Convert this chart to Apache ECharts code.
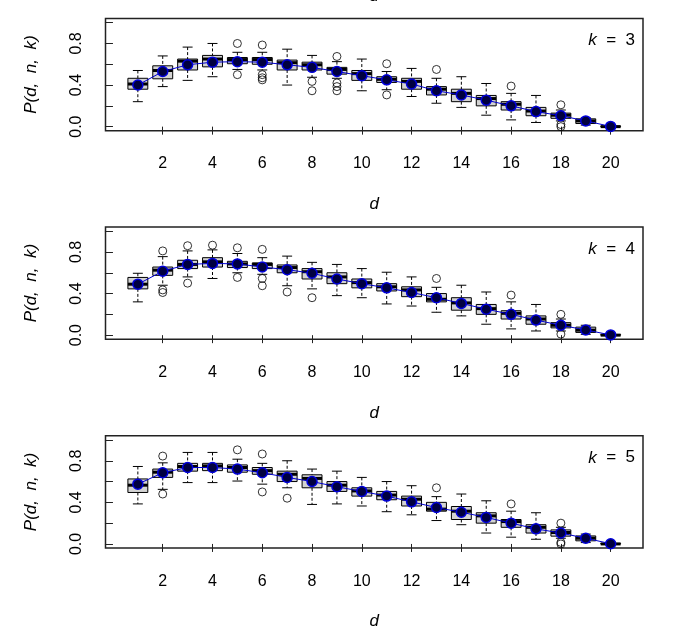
<!DOCTYPE html>
<html lang="en">
<head>
    <meta charset="UTF-8">
    <title>P(d, n, k)</title>
    <script src="https://cdn.jsdelivr.net/npm/echarts@6.0.0/dist/echarts.min.js"></script>
    <style>
        html, body { margin: 0; padding: 0; background: #fff; }
        #chart { width: 680px; height: 639px; }
    </style>
</head>
<body>
<div id="chart"></div>
<script>
    // d = 1..20
    var dVals = [1, 2, 3, 4, 5, 6, 7, 8, 9, 10, 11, 12, 13, 14, 15, 16, 17, 18, 19, 20];
    var xTicks = [2, 4, 6, 8, 10, 12, 14, 16, 18, 20];
    var yTicks = [0, 0.2, 0.4, 0.6, 0.8, 1.0];
    var yLabels = [0, 0.4, 0.8];
    var kVals = [3, 4, 5];

    // k = 3
    var k3Lo   = [0.24, 0.385, 0.445, 0.48, 0.55, 0.545, 0.40, 0.475, 0.465, 0.345, 0.355, 0.29, 0.225, 0.185, 0.11, 0.065, 0.04, 0.055, 0.015, 0];
    var k3Q1   = [0.36, 0.46, 0.545, 0.575, 0.605, 0.60, 0.545, 0.545, 0.505, 0.445, 0.425, 0.36, 0.305, 0.24, 0.20, 0.16, 0.105, 0.08, 0.03, 0];
    var k3Med  = [0.41, 0.54, 0.63, 0.65, 0.645, 0.645, 0.615, 0.595, 0.55, 0.51, 0.455, 0.435, 0.36, 0.32, 0.27, 0.215, 0.15, 0.11, 0.055, 0];
    var k3Q3   = [0.465, 0.585, 0.65, 0.685, 0.665, 0.665, 0.64, 0.62, 0.57, 0.54, 0.48, 0.465, 0.385, 0.36, 0.30, 0.24, 0.185, 0.13, 0.075, 0.005];
    var k3Hi   = [0.54, 0.68, 0.765, 0.80, 0.715, 0.715, 0.745, 0.685, 0.625, 0.65, 0.53, 0.56, 0.465, 0.48, 0.415, 0.32, 0.30, 0.16, 0.085, 0.005];
    var k3Mean = [0.40, 0.53, 0.595, 0.62, 0.625, 0.62, 0.595, 0.57, 0.53, 0.49, 0.45, 0.41, 0.345, 0.305, 0.255, 0.20, 0.145, 0.105, 0.055, 0.002];
    var k3Out  = [[5, 0.80], [5, 0.50], [6, 0.785], [6, 0.50], [6, 0.47], [6, 0.45], [8, 0.435], [8, 0.345],
                  [9, 0.675], [9, 0.42], [9, 0.385], [9, 0.345], [11, 0.605], [11, 0.305], [13, 0.55],
                  [16, 0.39], [18, 0.21], [18, 0.02], [18, 0.0]];

    // k = 4
    var k4Lo   = [0.32, 0.48, 0.56, 0.545, 0.60, 0.585, 0.475, 0.445, 0.38, 0.36, 0.30, 0.28, 0.22, 0.185, 0.105, 0.06, 0.04, 0.04, 0.008, 0];
    var k4Q1   = [0.445, 0.575, 0.64, 0.655, 0.65, 0.64, 0.60, 0.54, 0.495, 0.455, 0.425, 0.37, 0.32, 0.24, 0.20, 0.155, 0.105, 0.07, 0.026, 0];
    var k4Med  = [0.49, 0.625, 0.68, 0.705, 0.685, 0.68, 0.65, 0.61, 0.56, 0.505, 0.465, 0.435, 0.345, 0.31, 0.255, 0.21, 0.155, 0.095, 0.048, 0];
    var k4Q3   = [0.555, 0.655, 0.72, 0.745, 0.71, 0.695, 0.675, 0.64, 0.60, 0.54, 0.495, 0.465, 0.40, 0.36, 0.295, 0.235, 0.185, 0.12, 0.077, 0.005];
    var k4Hi   = [0.595, 0.755, 0.81, 0.82, 0.785, 0.745, 0.76, 0.70, 0.68, 0.64, 0.605, 0.56, 0.46, 0.48, 0.415, 0.32, 0.295, 0.155, 0.095, 0.005];
    var k4Mean = [0.49, 0.615, 0.68, 0.69, 0.685, 0.655, 0.63, 0.595, 0.54, 0.495, 0.455, 0.41, 0.36, 0.305, 0.25, 0.20, 0.145, 0.095, 0.05, 0.002];
    var k4Out  = [[2, 0.81], [2, 0.435], [2, 0.41], [3, 0.86], [3, 0.50], [4, 0.865], [5, 0.84], [5, 0.555],
                  [6, 0.825], [6, 0.545], [6, 0.475], [7, 0.415], [8, 0.36], [13, 0.545], [16, 0.385],
                  [18, 0.20], [18, 0.01]];

    // k = 5
    var k5Lo   = [0.385, 0.525, 0.59, 0.59, 0.605, 0.575, 0.54, 0.38, 0.385, 0.365, 0.31, 0.28, 0.225, 0.185, 0.105, 0.065, 0.045, 0.055, 0.013, 0];
    var k5Q1   = [0.495, 0.64, 0.70, 0.705, 0.69, 0.67, 0.60, 0.54, 0.505, 0.46, 0.425, 0.365, 0.315, 0.235, 0.20, 0.16, 0.105, 0.075, 0.03, 0];
    var k5Med  = [0.565, 0.69, 0.745, 0.75, 0.735, 0.705, 0.67, 0.63, 0.565, 0.51, 0.47, 0.43, 0.335, 0.315, 0.27, 0.215, 0.16, 0.11, 0.055, 0];
    var k5Q3   = [0.625, 0.72, 0.775, 0.775, 0.76, 0.735, 0.70, 0.665, 0.60, 0.54, 0.505, 0.46, 0.40, 0.36, 0.30, 0.235, 0.185, 0.135, 0.077, 0.005];
    var k5Hi   = [0.745, 0.78, 0.88, 0.88, 0.815, 0.775, 0.80, 0.72, 0.70, 0.64, 0.60, 0.56, 0.455, 0.48, 0.415, 0.315, 0.30, 0.16, 0.095, 0.005];
    var k5Mean = [0.575, 0.685, 0.735, 0.735, 0.72, 0.685, 0.64, 0.60, 0.55, 0.505, 0.46, 0.405, 0.35, 0.305, 0.255, 0.20, 0.145, 0.105, 0.055, 0.002];
    var k5Out  = [[2, 0.845], [2, 0.48], [5, 0.905], [6, 0.865], [6, 0.50], [7, 0.44], [13, 0.54], [16, 0.385],
                  [18, 0.20], [18, 0.015], [18, 0.0]];

    var panels = [
        {lo: k3Lo, q1: k3Q1, med: k3Med, q3: k3Q3, hi: k3Hi, mean: k3Mean, out: k3Out},
        {lo: k4Lo, q1: k4Q1, med: k4Med, q3: k4Q3, hi: k4Hi, mean: k4Mean, out: k4Out},
        {lo: k5Lo, q1: k5Q1, med: k5Med, q3: k5Q3, hi: k5Hi, mean: k5Mean, out: k5Out}
    ];

    var FONT = "'Liberation Sans', Arial, Helvetica, sans-serif";
    var gridTops = [18.5, 227, 435.8];
    var gridH = 112.3;

    function renderBox(params, api) {
        var d = api.value(0);
        var halfW = api.size([0.8, 0])[0] / 2;
        var capW = halfW / 2;
        var pLo = api.coord([d, api.value(1)]);
        var pQ1 = api.coord([d, api.value(2)]);
        var pMed = api.coord([d, api.value(3)]);
        var pQ3 = api.coord([d, api.value(4)]);
        var pHi = api.coord([d, api.value(5)]);
        var x = pMed[0];
        var dash = {stroke: '#000', lineWidth: 1, lineDash: [3, 2]};
        var ink = {stroke: '#000', lineWidth: 1};
        return {
            type: 'group',
            children: [
                {type: 'line', shape: {x1: x, y1: pHi[1], x2: x, y2: pQ3[1]}, style: dash},
                {type: 'line', shape: {x1: x, y1: pQ1[1], x2: x, y2: pLo[1]}, style: dash},
                {type: 'line', shape: {x1: x - capW, y1: pHi[1], x2: x + capW, y2: pHi[1]}, style: ink},
                {type: 'line', shape: {x1: x - capW, y1: pLo[1], x2: x + capW, y2: pLo[1]}, style: ink},
                {type: 'rect', shape: {x: x - halfW, y: pQ3[1], width: 2 * halfW, height: pQ1[1] - pQ3[1]},
                    style: {fill: '#d3d3d3', stroke: '#000', lineWidth: 1}},
                {type: 'line', shape: {x1: x - halfW, y1: pMed[1], x2: x + halfW, y2: pMed[1]},
                    style: {stroke: '#000', lineWidth: 3}}
            ]
        };
    }

    var grids = [], xAxes = [], yAxes = [], series = [], graphics = [];

    panels.forEach(function (p, i) {
        grids.push({
            left: 105.5, width: 537.5, top: gridTops[i], height: gridH,
            show: true, borderColor: '#222', borderWidth: 1.5, backgroundColor: 'transparent',
            outerBoundsMode: 'none'
        });
        xAxes.push({
            type: 'value', gridIndex: i, min: -0.3, max: 21.3,
            name: 'd', nameLocation: 'middle', nameGap: 65,
            nameTextStyle: {fontFamily: FONT, fontSize: 17, fontStyle: 'italic', color: '#000'},
            axisLine: {show: false},
            splitLine: {show: false},
            axisTick: {show: true, length: 8, customValues: xTicks, lineStyle: {color: '#222', width: 1}},
            axisLabel: {customValues: xTicks, margin: 25, fontFamily: FONT, fontSize: 16, color: '#000'}
        });
        yAxes.push({
            type: 'value', gridIndex: i, min: -0.04, max: 1.04,
            name: 'P(d,  n,  k)', nameLocation: 'middle', nameGap: 66, nameRotate: 90,
            nameTextStyle: {fontFamily: FONT, fontSize: 17, fontStyle: 'italic', color: '#000'},
            axisLine: {show: false},
            splitLine: {show: false},
            axisTick: {show: true, length: 8, customValues: yTicks, lineStyle: {color: '#222', width: 1}},
            axisLabel: {
                customValues: yLabels, rotate: 90, margin: 21,
                fontFamily: FONT, fontSize: 16, color: '#000',
                formatter: function (v) { return Number(v).toFixed(1); }
            }
        });

        var boxData = dVals.map(function (d, j) {
            return [d, p.lo[j], p.q1[j], p.med[j], p.q3[j], p.hi[j]];
        });
        series.push({
            type: 'custom', xAxisIndex: i, yAxisIndex: i, z: 2,
            renderItem: renderBox,
            encode: {x: 0, y: [1, 2, 3, 4, 5]},
            data: boxData
        });
        series.push({
            type: 'scatter', xAxisIndex: i, yAxisIndex: i, z: 2,
            symbol: 'circle', symbolSize: 8,
            itemStyle: {color: 'transparent', borderColor: '#000', borderWidth: 1},
            data: p.out
        });
        series.push({
            type: 'line', xAxisIndex: i, yAxisIndex: i, z: 3,
            symbol: 'circle', symbolSize: 10, showAllSymbol: true,
            lineStyle: {color: '#0000cc', width: 1},
            itemStyle: {color: '#000040', borderColor: '#0000dd', borderWidth: 1.5},
            data: dVals.map(function (d, j) { return [d, p.mean[j]]; })
        });

        graphics.push({
            type: 'text', x: 635, y: gridTops[i] + 22, z: 10,
            style: {
                text: '{i|k}  =  ' + kVals[i],
                align: 'right', verticalAlign: 'middle',
                fontFamily: FONT, fontSize: 17, fill: '#000',
                rich: {i: {fontFamily: FONT, fontSize: 17, fontStyle: 'italic', fill: '#000'}}
            }
        });
    });

    // tail of the previous panel's axis title, cut by the top edge
    graphics.push({
        type: 'text', x: 374, y: 5,
        style: {text: 'd', align: 'center', verticalAlign: 'bottom', fontFamily: FONT,
            fontSize: 17, fontStyle: 'italic', fill: '#000'}
    });

    var chart = echarts.init(document.getElementById('chart'), null, {renderer: 'canvas'});
    chart.setOption({
        animation: false,
        backgroundColor: '#fff',
        grid: grids,
        xAxis: xAxes,
        yAxis: yAxes,
        series: series,
        graphic: graphics
    });
</script>
</body>
</html>
